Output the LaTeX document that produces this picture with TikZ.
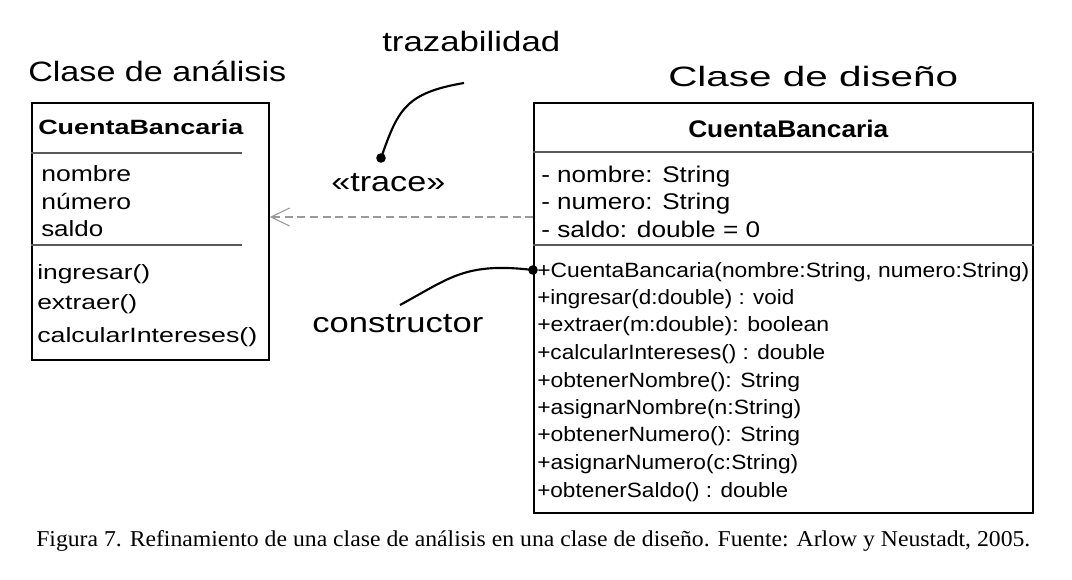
\documentclass[tikz,border=0pt]{standalone}
\usepackage{fontspec}
\setmainfont{Liberation Serif}
\newfontfamily\umlsans{Liberation Sans}
\usetikzlibrary{arrows.meta}
\newlength\pxu \setlength\pxu{0.75pt}
\newcommand\tw[2]{\resizebox{#1\pxu}{\height}{#2}}
\begin{document}
\begin{tikzpicture}[x=0.75pt,y=-0.75pt,
  box/.style={draw, line width=1.1pt, inner sep=0},
  sepline/.style={draw=black!65, line width=1.4pt},
  txt/.style={inner sep=0, anchor=base west, font=\umlsans},
  ttl/.style={txt, font=\umlsans\fontsize{21}{24}\selectfont},
  hdr/.style={txt, font=\umlsans\bfseries\fontsize{15.5}{18}\selectfont},
  att/.style={txt, font=\umlsans\fontsize{16.5}{19}\selectfont},
  mth/.style={txt, font=\umlsans\fontsize{15.5}{18}\selectfont},
  ratt/.style={txt, font=\umlsans\fontsize{17}{20}\selectfont},
  pointer/.style={line width=1.6pt},
  dotmark/.style={fill=black},
  trace/.style={draw=black!40, line width=1.5pt, dash pattern=on 6pt off 3.5pt,
    -{Straight Barb[length=14pt,width=13.5pt,line width=0.8pt]}}]
\useasboundingbox (0,0) rectangle (1072,580);
\fill[white] (0,0) rectangle (1072,580);

% titles
\node[ttl] (tA) at (28,82) {\tw{258}{Clase de análisis}};
\node[ttl] (tD) at (668,87) {\tw{290}{Clase de diseño}};
\node[ttl] (tZ) at (382,52) {\tw{178}{trazabilidad}};
\node[ttl] (tT) at (331,192) {\tw{114}{«trace»}};
\node[ttl] (tC) at (312,333) {\tw{171}{constructor}};

% analysis class
\node[box, minimum width=237\pxu, minimum height=257\pxu] (ana) at (150.5,231.5) {};
\draw[sepline] (ana.west |- 0,153) -- (242,153);
\draw[sepline] (ana.west |- 0,245) -- (242,245);
\node[hdr] (aH) at (38,135) {\tw{205}{CuentaBancaria}};
\node[att] (a1) at (41,182) {\tw{90}{nombre}};
\node[att] (a2) at (41,210) {\tw{90}{número}};
\node[att] (a3) at (41,237) {\tw{62}{saldo}};
\node[mth] (m1) at (37,280) {\tw{113}{ingresar()}};
\node[mth] (m2) at (37,310) {\tw{100}{extraer()}};
\node[mth] (m3) at (37,343) {\tw{220}{calcularIntereses()}};

% design class
\node[box, minimum width=499\pxu, minimum height=410\pxu] (dis) at (783.5,308) {};
\draw[sepline] (dis.west |- 0,152) -- (dis.east |- 0,152);
\draw[sepline] (dis.west |- 0,245) -- (dis.east |- 0,245);
\node[hdr, font=\umlsans\bfseries\fontsize{18}{21}\selectfont] (dH) at (688,138) {\tw{200}{CuentaBancaria}};
\node[ratt] (d1) at (541,183) {\tw{189}{- nombre: String}};
\node[ratt] (d2) at (541,210) {\tw{189}{- numero: String}};
\node[ratt] (d3) at (541,238) {\tw{219}{- saldo: double = 0}};
\node[mth] (e1) at (537,278) {\tw{492}{+CuentaBancaria(nombre:String, numero:String)}};
\node[mth] (e2) at (537,305) {\tw{257}{+ingresar(d:double) : void}};
\node[mth] (e3) at (537,332) {\tw{292}{+extraer(m:double): boolean}};
\node[mth] (e4) at (537,360) {\tw{288}{+calcularIntereses() : double}};
\node[mth] (e5) at (537,388) {\tw{263}{+obtenerNombre(): String}};
\node[mth] (e6) at (537,415) {\tw{264}{+asignarNombre(n:String)}};
\node[mth] (e7) at (537,442) {\tw{263}{+obtenerNumero(): String}};
\node[mth] (e8) at (537,470) {\tw{261}{+asignarNumero(c:String)}};
\node[mth] (e9) at (537,498) {\tw{251}{+obtenerSaldo() : double}};

% trace dependency
\coordinate (tr) at (0,217);
\draw[trace] (dis.west |- tr) -- (ana.east |- tr);

% annotation pointers
\coordinate (zA) at (464,83);
\coordinate (zB) at (381,158);
\draw[pointer] (zA) .. controls (405,93) and (398,110) .. (zB);
\fill[dotmark] (zB) circle (3.6pt);
\coordinate (cA) at (400,305);
\coordinate (cB) at (533,270);
\draw[pointer] (cA) .. controls (450,278) and (465,262) .. (cB);
\fill[dotmark] (cB) circle (3.6pt);

% caption
\node[inner sep=0, anchor=base west, font=\fontsize{17}{20}\selectfont] (cap) at (36,547)
  {\tw{994}{Figura 7. Refinamiento de una clase de análisis en una clase de diseño. Fuente: Arlow y Neustadt, 2005.}};
\end{tikzpicture}
\end{document}
